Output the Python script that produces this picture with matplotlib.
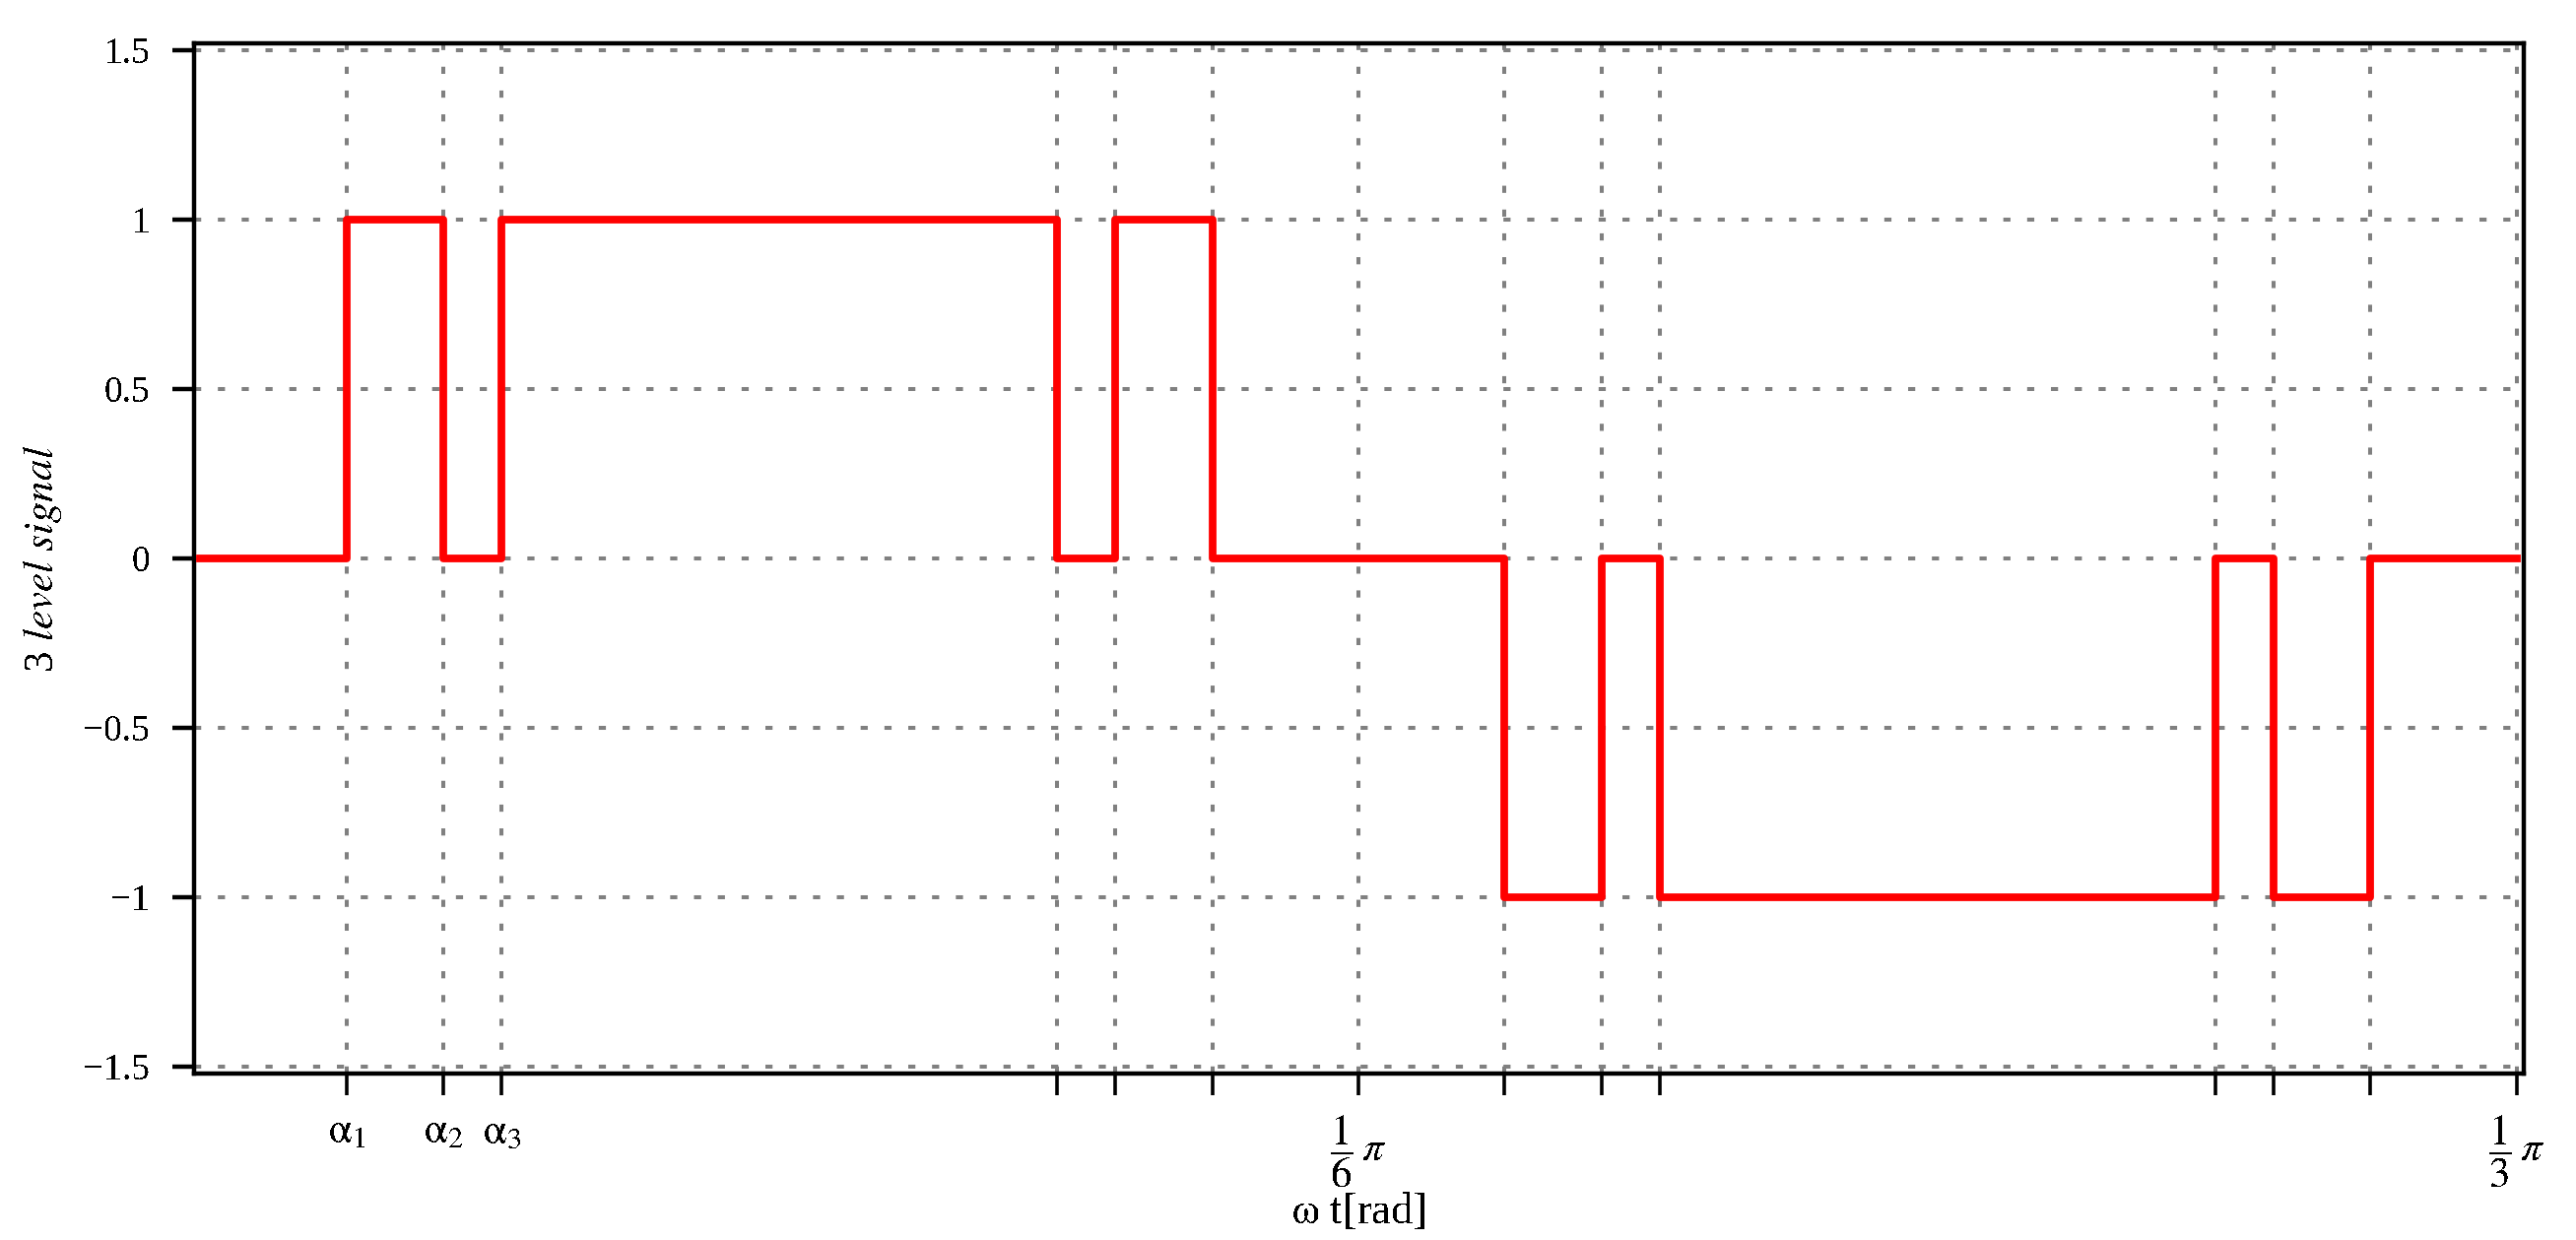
import numpy as np
import matplotlib
matplotlib.use("Agg")
import matplotlib.pyplot as plt

plt.rcParams["font.family"] = ["Liberation Serif", "DejaVu Serif"]
plt.rcParams["mathtext.fontset"] = "stix"
plt.rcParams["text.antialiased"] = False

# switching angles in degrees over one sixth of the period (0 .. 60 deg)
switch_deg = [3.79, 6.31, 7.81, 22.20, 23.70, 26.22,
              33.78, 36.30, 37.80, 52.19, 53.69, 56.21]
# level held after each edge (first value is the level from 0)
levels = [0, 1, 0, 1, 0, 1, 0, -1, 0, -1, 0, -1, 0]

xtick_labels = [r"$\mathrm{\alpha}_1$", r"$\mathrm{\alpha}_2$", r"$\mathrm{\alpha}_3$",
                "", "", "", r"$\dfrac{1}{6}\,\pi$",
                "", "", "", "", "", "", r"$\dfrac{1}{3}\,\pi$"]
yticks = [1.5, 1, 0.5, 0, -0.5, -1, -1.5]
ytick_labels = ["1.5", "1", "0.5", "0", "\u22120.5", "\u22121", "\u22121.5"]

sw = np.deg2rad(switch_deg)
edges = np.concatenate([[0.0], sw, [np.pi / 3]])
lv = np.array(levels + [levels[-1]])

xticks = np.concatenate([sw[:6], [np.pi / 6], sw[6:], [np.pi / 3]])

fig = plt.figure(figsize=(26.15, 12.59), dpi=100)
ax = fig.add_axes([0.0753, 0.1342, 0.9043, 0.8308])

ax.plot(edges, lv, drawstyle="steps-post", color="red", lw=5.6, zorder=3)

ax.set_xlim(-0.0027, np.pi / 3 + 0.003)
ax.set_ylim(-1.52, 1.52)
ax.set_xticks(xticks)
ax.set_xticklabels(xtick_labels)
ax.set_yticks(yticks)
ax.set_yticklabels(ytick_labels)

ax.grid(True, color="#808080", lw=2.9, ls=(0, (1.8, 4.2)))
ax.set_axisbelow(True)

for s in ax.spines.values():
    s.set_linewidth(3.2)
ax.tick_params(axis="y", length=16, width=3.2, labelsize=27, pad=16)
ax.tick_params(axis="x", length=16, width=2.6, labelsize=31, pad=13)

ax.set_xlabel(r"$\mathrm{\omega}$ t[rad]", fontsize=32, labelpad=0)
ax.set_ylabel(r"3 $\mathit{level\ signal}$", fontsize=31, labelpad=14)

plt.savefig("out.png", dpi=100)
